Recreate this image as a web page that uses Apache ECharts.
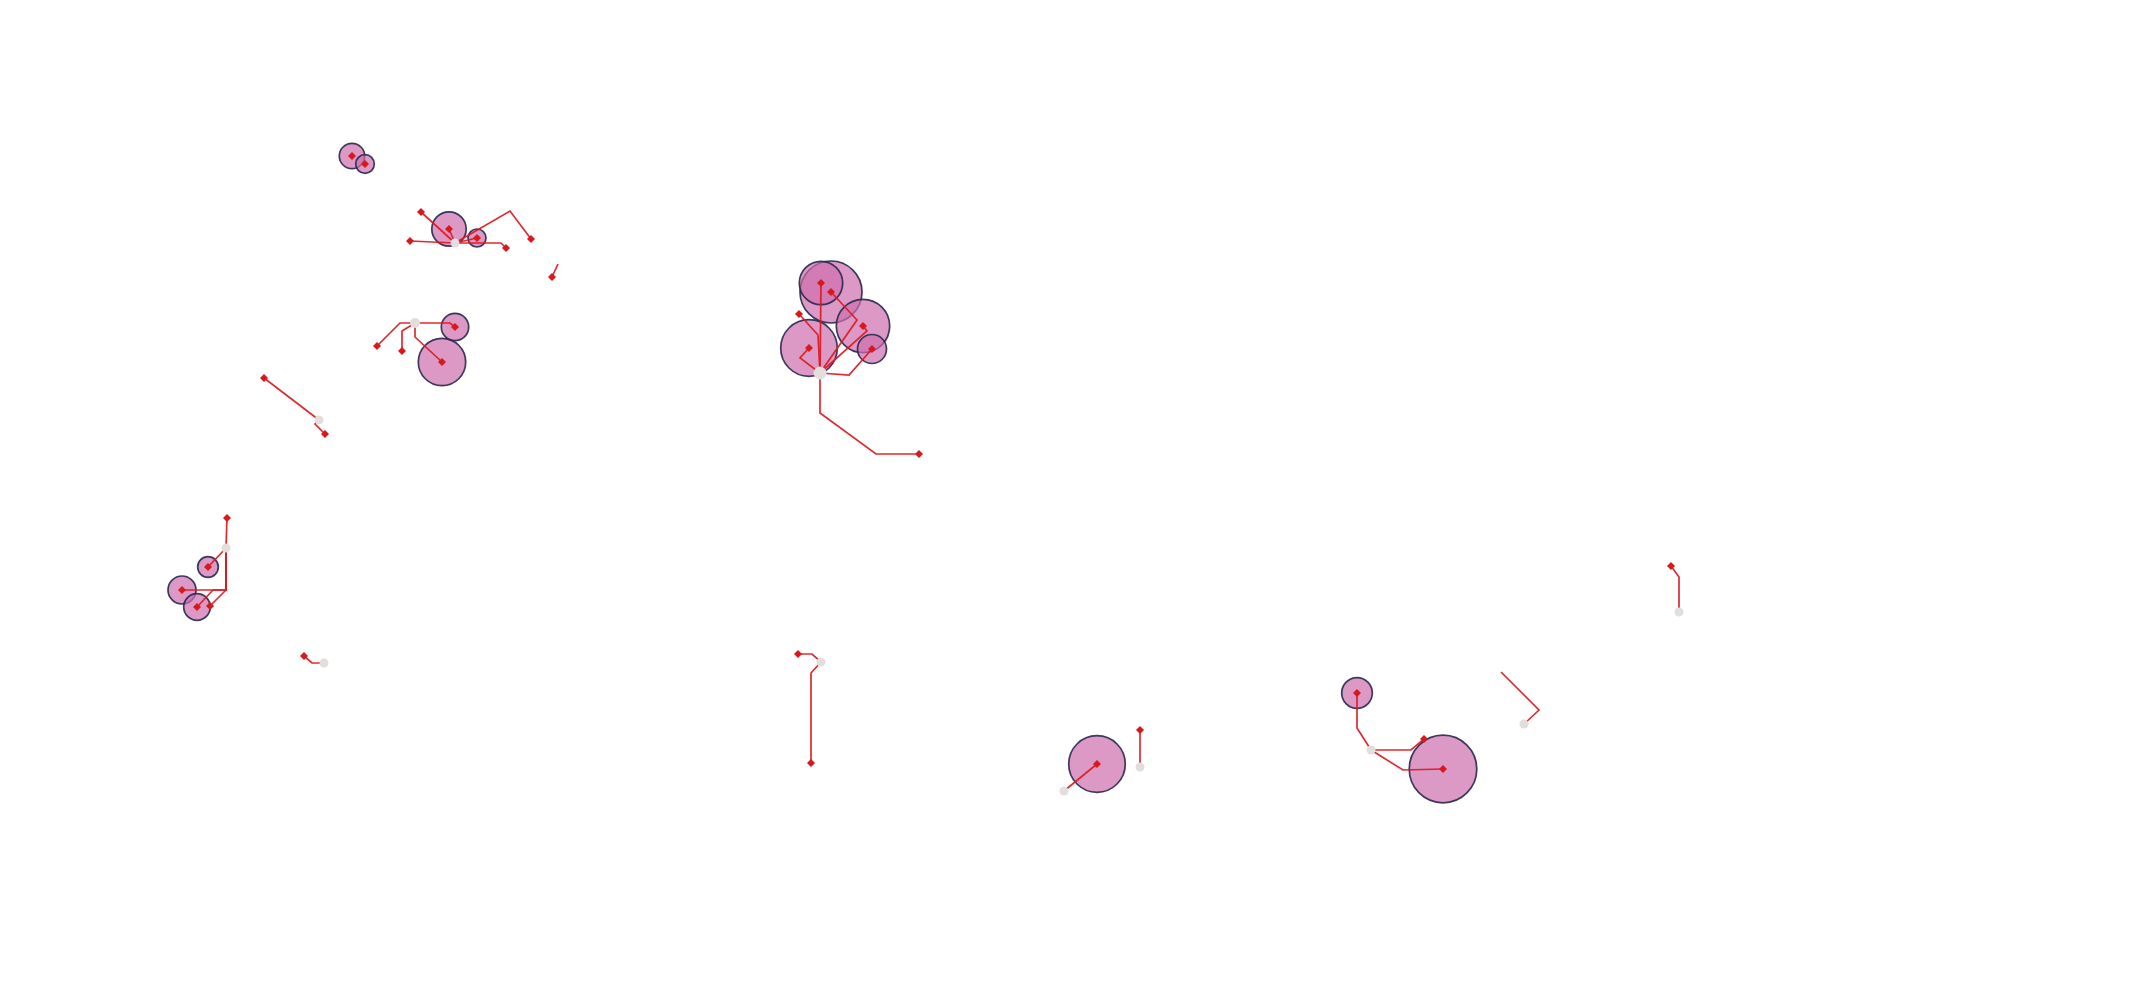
<!DOCTYPE html>
<html>
<head>
<meta charset="utf-8">
<script src="https://cdn.jsdelivr.net/npm/echarts@6/dist/echarts.min.js"></script>
<style>html,body{margin:0;padding:0;background:#fff}#c{width:2145px;height:1000px}</style>
</head>
<body>
<div id="c"></div>
<script>
// Map-space units (x to the right, y downward)
const hubs = [
  [455,243,9],[415,323,10],[319,420,9],[226,548,9],[820,373,13],[324,663,9],
  [821,662,9],[1064,791,9],[1140,767,9],[1371,750,9],[1524,724,9],[1679,612,9]
];
const destinations = [
  [352,156],[365,164],
  [421,212],[410,241],[449,229],[477,238],[531,239],[506,248],[552,277],
  [377,346],[402,351],[442,362],[455,327],
  [264,378],[325,434],
  [227,518],[208,567],[182,590],[197,607],[210,606],
  [919,454],[821,283],[831,292],[863,326],[872,349],[809,348],[799,314],
  [304,656],[798,654],[811,763],
  [1097,764],[1140,730],
  [1357,693],[1424,739],[1443,769],
  [1671,566]
];
// [x, y, radius]
const bubbles = [
  [352,156,12.7],[365,164,9.3],[449,229,17.2],[477,238,9],[442,362,23.7],[455,327,13.7],
  [208,567,10.3],[182,590,14],[197,607,13.3],
  [821,283,21.7],[831,292,31],[863,326,26.7],[872,349,14.5],[809,348,28.3],
  [1097,764,28.3],[1357,693,15.3],[1443,769,33.8]
];
const routes = [
  [[455,243],[421,212]],
  [[455,243],[410,241]],
  [[455,243],[449,229]],
  [[455,243],[477,238]],
  [[455,243],[510,211],[531,239]],
  [[455,243],[501,243],[506,248]],
  [[558,264],[552,277]],
  [[415,323],[400,323],[377,346]],
  [[415,323],[402,331],[402,351]],
  [[415,323],[415,337],[442,362]],
  [[415,323],[450,323],[455,327]],
  [[319,420],[264,378]],
  [[319,420],[315,424],[325,434]],
  [[226,548],[227,518]],
  [[226,548],[208,567]],
  [[226,548],[226,590],[182,590]],
  [[226,548],[226,590],[213,590],[197,607]],
  [[226,548],[226,590],[210,606]],
  [[820,373],[820,413],[876,454],[919,454]],
  [[820,373],[821,283]],
  [[820,373],[857,320],[831,292]],
  [[820,373],[867,331],[863,326]],
  [[820,373],[849,375],[872,349]],
  [[820,373],[800,358],[809,348]],
  [[820,373],[818,335],[799,314]],
  [[324,663],[312,663],[304,656]],
  [[821,662],[812,654],[798,654]],
  [[821,662],[811,673],[811,763]],
  [[1064,791],[1097,764]],
  [[1140,767],[1140,730]],
  [[1371,750],[1357,728],[1357,693]],
  [[1371,750],[1411,750],[1424,739]],
  [[1371,750],[1403,770],[1443,769]],
  [[1524,724],[1539,710],[1501,672]],
  [[1679,612],[1679,577],[1671,566]]
];

const chart = echarts.init(document.getElementById('c'));
const sortedBubbles = bubbles.slice().sort((a,b)=>b[2]-a[2]);
chart.setOption({
  animation: false,
  backgroundColor: '#ffffff',
  grid: {left: 0, right: 0, top: 0, bottom: 0},
  xAxis: {type: 'value', min: 0, max: 2145, show: false},
  yAxis: {type: 'value', min: 0, max: 1000, inverse: true, show: false},
  series: [
    {
      type: 'scatter', z: 1,
      data: sortedBubbles.map(b => [b[0], b[1], b[2]]),
      symbol: 'circle',
      symbolSize: v => v[2] * 2,
      itemStyle: {opacity: 1, color: 'rgba(205,110,172,0.7)', borderColor: 'rgba(40,40,78,0.9)', borderWidth: 1.7}
    },
    {
      type: 'lines', coordinateSystem: 'cartesian2d', polyline: true, z: 2,
      data: routes.map(r => ({coords: r})),
      lineStyle: {color: '#dc1820', width: 1.7, opacity: 0.92}
    },
    {
      type: 'scatter', z: 3,
      data: hubs,
      symbol: 'circle',
      symbolSize: v => v[2],
      itemStyle: {opacity: 1, color: '#e2dedc'}
    },
    {
      type: 'scatter', z: 4,
      data: destinations,
      symbol: 'diamond',
      symbolSize: 8,
      itemStyle: {opacity: 1, color: '#d7191c'}
    }
  ]
});
</script>
</body>
</html>
